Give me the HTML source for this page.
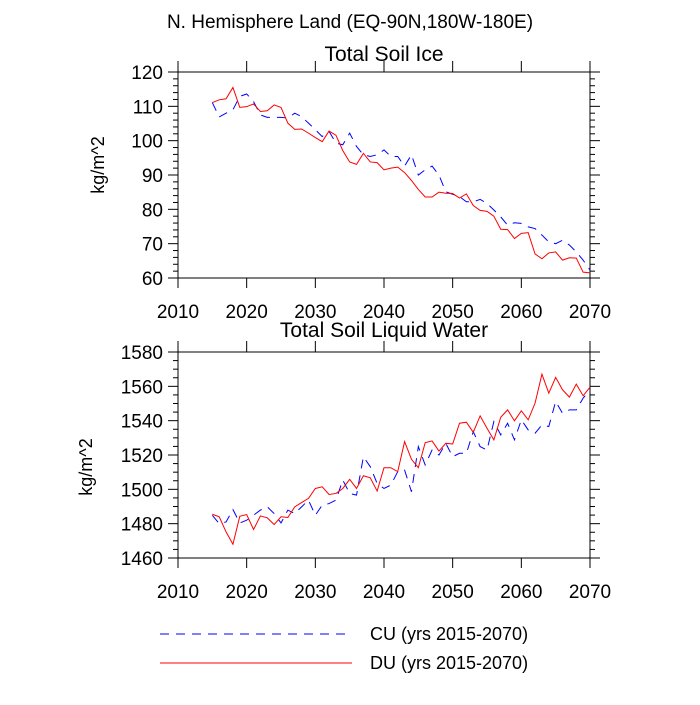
<!DOCTYPE html>
<html><head><meta charset="utf-8"><style>
body{margin:0;background:#fff;}
svg text{font-family:"Liberation Sans",sans-serif;fill:#000;}
</style></head><body>
<svg id="chart" width="700" height="700" viewBox="0 0 700 700">
<text x="350" y="28" font-size="19" text-anchor="middle">N. Hemisphere Land (EQ-90N,180W-180E)</text>
<g id="p1"></g><g id="p2"></g>
<g>
<line x1="160" y1="634" x2="352" y2="634" stroke="#00f" stroke-width="1" stroke-dasharray="9,7"/>
<text x="370" y="640" font-size="18">CU (yrs 2015-2070)</text>
<line x1="160" y1="663" x2="352" y2="663" stroke="#f00" stroke-width="1"/>
<text x="370" y="669" font-size="18">DU (yrs 2015-2070)</text>
</g>
</svg>
<script>
const years=[];for(let y=2015;y<=2070;y++)years.push(y);
const xTicks=[2010,2020,2030,2040,2050,2060,2070];
const iceDU=[111.1,111.9,112.2,115.5,109.7,109.9,110.7,108.5,108.7,110.4,109.7,105.1,103.3,103.4,102.2,100.9,99.7,102.8,101.6,97.1,93.8,93.1,96.3,93.8,93.6,91.5,92.0,92.3,90.7,88.4,85.8,83.6,83.6,85.0,84.7,84.6,83.3,84.5,81.1,79.7,79.4,78.0,74.2,74.1,71.5,73.0,73.2,67.0,65.6,67.3,67.6,65.2,65.9,65.8,61.7,61.5];
const iceCU=[111.1,106.9,108.0,109.0,112.9,113.6,111.4,107.5,106.8,106.8,106.8,106.6,108.0,107.0,105.1,103.2,101.2,102.7,99.3,98.8,102.2,98.3,95.9,95.4,95.9,97.3,95.4,95.4,92.6,95.9,90.0,91.5,92.6,90.0,85.1,84.4,83.7,82.2,82.2,82.9,81.7,79.8,77.8,75.4,76.1,75.9,74.9,74.4,72.5,70.5,70.0,71.0,69.6,67.6,65.2,62.3];
const liqDU=[1485.5,1484.0,1475.2,1468.0,1484.3,1485.3,1476.6,1484.5,1483.4,1479.5,1484.0,1483.6,1489.8,1492.3,1494.7,1500.5,1501.5,1497.0,1497.6,1500.5,1505.8,1500.5,1507.9,1506.7,1499.0,1512.6,1512.6,1510.3,1527.8,1517.5,1512.6,1527.2,1528.2,1522.3,1526.8,1526.4,1538.5,1539.1,1533.2,1542.8,1535.6,1528.8,1542.0,1546.3,1539.9,1545.7,1540.5,1550.2,1567.1,1556.0,1565.2,1558.0,1553.7,1561.3,1554.5,1559.5];
const liqCU=[1484.9,1480.0,1481.0,1488.2,1480.4,1482.0,1484.9,1487.9,1489.8,1485.9,1480.4,1487.9,1485.9,1489.8,1493.7,1484.9,1490.8,1491.7,1493.7,1505.4,1497.6,1496.6,1519.0,1513.2,1503.4,1500.5,1502.5,1510.3,1511.2,1498.6,1524.9,1514.2,1522.9,1520.0,1526.8,1519.0,1521.0,1521.0,1533.6,1524.9,1522.9,1539.5,1531.7,1538.5,1528.8,1540.5,1534.6,1532.7,1537.5,1536.6,1551.2,1544.3,1546.3,1546.3,1553.1,1558.0];
const iceTicks=[60,70,80,90,100,110,120];
const liqTicks=[1460,1480,1500,1520,1540,1560,1580];
const NS='http://www.w3.org/2000/svg';
function mk(tag,attrs,parent){const e=document.createElementNS(NS,tag);for(const k in attrs)e.setAttribute(k,attrs[k]);parent.appendChild(e);return e;}
function panel(g,top,title,titleY,ytX,ytY,ticks,minorStep,du,cu,prefix){
  const L=178,R=590,T=top,B=top+206;
  const ymin=ticks[0],ymax=ticks[ticks.length-1];
  const xs=v=>L+(v-2010)/60*(R-L);
  const ys=v=>B-(v-ymin)/(ymax-ymin)*(B-T);
  const fr=mk('rect',{x:L,y:T,width:R-L,height:B-T,fill:'none',stroke:'#000','stroke-width':1},g);
  
  
  xTicks.forEach(v=>{const x=xs(v);
    mk('line',{x1:x,y1:B,x2:x,y2:B+10,stroke:'#000'},g);
    mk('line',{x1:x,y1:T,x2:x,y2:T-11,stroke:'#000'},g);
    const lb=mk('text',{x:x,y:B+40,'font-size':19,'text-anchor':'middle'},g);lb.textContent=v;
    
    
  });
  for(let v=ymin;v<=ymax+1e-9;v+=minorStep){const y=ys(v);const major=ticks.includes(v);const len=major?10:5;
    mk('line',{x1:L,y1:y,x2:L-len,y2:y,stroke:'#000'},g);
    mk('line',{x1:R,y1:y,x2:R+len,y2:y,stroke:'#000'},g);}
  ticks.forEach(v=>{const lb=mk('text',{x:L-15,y:ys(v)+7,'font-size':19,'text-anchor':'end'},g);lb.textContent=v;
    
    });
  let t=mk('text',{x:(L+R)/2,y:titleY,'font-size':21,'text-anchor':'middle'},g);t.textContent=title;
  
  
  const yt=mk('text',{x:0,y:0,'font-size':18,'text-anchor':'middle',transform:`translate(${ytX},${ytY}) rotate(-90)`},g);yt.textContent='kg/m^2';
  
  
  const pc=mk('polyline',{points:cu.map((v,i)=>xs(years[i])+','+ys(v)).join(' '),fill:'none',stroke:'#00f','stroke-width':1,'stroke-dasharray':'9,7'},g);
  
  
  const pd=mk('polyline',{points:du.map((v,i)=>xs(years[i])+','+ys(v)).join(' '),fill:'none',stroke:'#f00','stroke-width':1},g);
  
  
}
panel(document.getElementById('p1'),72,'Total Soil Ice',61,104,165,iceTicks,2,iceDU,iceCU,'ice');
panel(document.getElementById('p2'),352,'Total Soil Liquid Water',337,92,467,liqTicks,5,liqDU,liqCU,'liq');
</script>
</body></html>
